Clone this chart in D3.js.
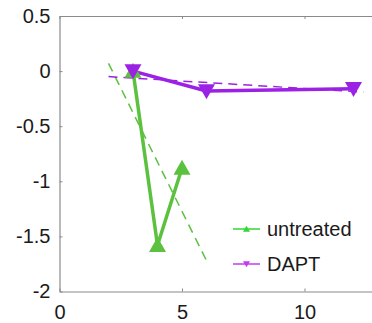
<!DOCTYPE html>
<html>
<head>
<meta charset="utf-8">
<script src="https://cdn.jsdelivr.net/npm/d3@7"></script>
<style>
  html, body { margin: 0; padding: 0; background: #fff; }
  svg { display: block; }
  text { font-family: "Liberation Sans", Arial, Helvetica, sans-serif; fill: #1a1a1a; }
</style>
</head>
<body>
<svg id="chart" width="372" height="323"></svg>
<script>
// Measured points for each condition
const untreatedX = [3, 4, 5];
const untreatedY = [0, -1.58, -0.88];
const daptX = [3, 6, 12];
const daptY = [0, -0.18, -0.16];

// Linear trend lines (end points)
const untreatedFitX = [2, 6];
const untreatedFitY = [0.07, -1.72];
const daptFitX = [2, 12.4];
const daptFitY = [-0.05, -0.19];

// Axis ticks
const xTicks = [0, 5, 10];
const yTicks = [0.5, 0, -0.5, -1, -1.5, -2];
const yTickLabels = ["0.5", "0", "-0.5", "-1", "-1.5", "-2"];

const seriesNames = ["untreated", "DAPT"];

const green = "#5cc13f";
const purple = "#9b22e4";
const legendGreen = "#33d633";
const legendPurple = "#c03cf0";

const fontSize = 20;

const svg = d3.select("#chart");
const plotLeft = 59.5, plotTop = 16, plotBottom = 291.5;

const x = d3.scaleLinear().domain([0, 13]).range([plotLeft, plotLeft + 13 * 24.5]);
const y = d3.scaleLinear().domain([-2, 0.5]).range([plotBottom, plotTop]);

const axisColor = "#8a8a8a";

// Axes box (left, bottom, top)
const yAxis = d3.axisLeft(y).tickValues(yTicks).tickSizeInner(-3).tickSizeOuter(0)
  .tickFormat((d, i) => yTickLabels[i]).tickPadding(9);
const gy = svg.append("g").attr("transform", `translate(${plotLeft},0)`).call(yAxis);

const xAxis = d3.axisBottom(x).tickValues(xTicks).tickSizeInner(-3).tickSizeOuter(0)
  .tickFormat(d3.format("d")).tickPadding(13);
const gx = svg.append("g").attr("transform", `translate(0,${plotBottom})`).call(xAxis);

const xTop = d3.axisTop(x).tickValues(xTicks).tickSizeInner(-3).tickSizeOuter(0).tickFormat("");
const gt = svg.append("g").attr("transform", `translate(0,${plotTop})`).call(xTop);

[gy, gx, gt].forEach(g => {
  g.select(".domain").attr("stroke", axisColor).attr("stroke-width", 1.2);
  g.selectAll(".tick line").attr("stroke", axisColor).attr("stroke-width", 1);
  g.selectAll(".tick text").attr("font-size", fontSize).attr("fill", "#1a1a1a")
    .style("font-family", "'Liberation Sans', Arial, sans-serif");
});

const line = d3.line().x(d => x(d[0])).y(d => y(d[1]));

// Dashed trend lines
svg.append("path").datum(d3.zip(untreatedFitX, untreatedFitY))
  .attr("d", line).attr("fill", "none").attr("stroke", green)
  .attr("stroke-width", 1.5).attr("stroke-dasharray", "9,6");
svg.append("path").datum(d3.zip(daptFitX, daptFitY))
  .attr("d", line).attr("fill", "none").attr("stroke", purple)
  .attr("stroke-width", 1.5).attr("stroke-dasharray", "9,6");

// Solid series lines
svg.append("path").datum(d3.zip(untreatedX, untreatedY))
  .attr("d", line).attr("fill", "none").attr("stroke", green)
  .attr("stroke-width", 3.5).attr("stroke-linejoin", "round");
svg.append("path").datum(d3.zip(daptX, daptY))
  .attr("d", line).attr("fill", "none").attr("stroke", purple)
  .attr("stroke-width", 3.5).attr("stroke-linejoin", "round");

// Triangle markers
function tri(cx, cy, w, h, up) {
  const s = up ? -1 : 1;
  return `M${cx},${cy + s * h / 2 * 1.1} L${cx - w / 2},${cy - s * h / 2 * 0.9} L${cx + w / 2},${cy - s * h / 2 * 0.9}Z`;
}
svg.append("g").selectAll("path").data(d3.zip(untreatedX, untreatedY)).join("path")
  .attr("d", d => tri(x(d[0]), y(d[1]), 17, 15, true))
  .attr("fill", green);
svg.append("g").selectAll("path").data(d3.zip(daptX, daptY)).join("path")
  .attr("d", d => tri(x(d[0]), y(d[1]), 17, 15, false))
  .attr("fill", purple);

// Legend
const legend = svg.append("g");
const legendItems = [
  { name: seriesNames[0], color: legendGreen, up: true, cy: 229 },
  { name: seriesNames[1], color: legendPurple, up: false, cy: 264 }
];
legendItems.forEach(it => {
  legend.append("line").attr("x1", 233).attr("x2", 260).attr("y1", it.cy).attr("y2", it.cy)
    .attr("stroke", it.color).attr("stroke-width", 1.5);
  legend.append("path").attr("d", tri(246.5, it.cy, 7, 6, it.up)).attr("fill", it.color);
  legend.append("text").attr("x", 267).attr("y", it.cy + 7).attr("font-size", fontSize)
    .text(it.name);
});
</script>
</body>
</html>
